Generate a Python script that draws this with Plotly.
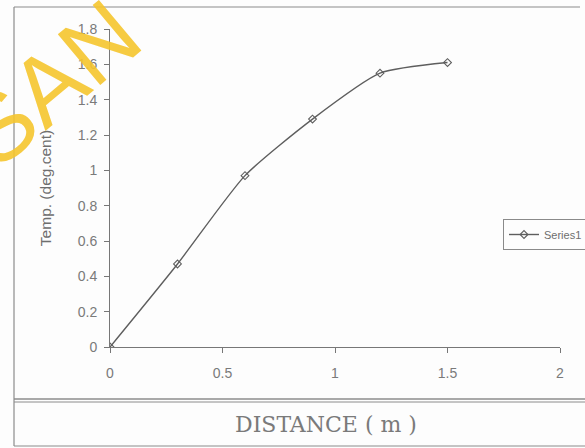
import plotly.graph_objects as go

# Measured temperature rise along the rod
distance_m = [0, 0.3, 0.6, 0.9, 1.2, 1.5]
temp_degc = [0, 0.47, 0.97, 1.29, 1.55, 1.61]
series_name = "Series1"

x_ticks = [0, 0.5, 1, 1.5, 2]
x_tick_text = ["0", "0.5", "1", "1.5", "2"]
y_ticks = [0, 0.2, 0.4, 0.6, 0.8, 1, 1.2, 1.4, 1.6, 1.8]
y_tick_text = ["0", "0.2", "0.4", "0.6", "0.8", "1", "1.2", "1.4", "1.6", "1.8"]

W, H = 585, 448
ML, MR, MT, MB = 110, 25, 29, 101
PW, PH = W - ML - MR, H - MT - MB
GREY = "#6e6e6e"
LINE = "#5e5e5e"


def px(x):
    return (x - ML) / PW


def py(y):
    return (H - MB - y) / PH


fig = go.Figure()
fig.add_trace(go.Scatter(
    x=distance_m, y=temp_degc, name=series_name,
    mode="lines+markers",
    line=dict(color=LINE, width=1.4, shape="spline", smoothing=0.6),
    marker=dict(symbol="diamond-open", size=6, color=LINE, line=dict(width=1.1)),
))

fig.update_layout(
    width=W, height=H,
    margin=dict(l=ML, r=MR, t=MT, b=MB, autoexpand=False),
    paper_bgcolor="#fdfdfd", plot_bgcolor="#fdfdfd",
    font=dict(family="Liberation Sans, Arial, sans-serif", color=GREY, size=13),
    showlegend=True,
    legend=dict(
        x=px(503), y=py(219),
        xanchor="left", yanchor="top",
        bordercolor="#8a8a8a", borderwidth=1, bgcolor="#fdfdfd",
        font=dict(size=11, color=GREY),
        itemwidth=30, tracegroupgap=0,
    ),
    xaxis=dict(
        range=[0, 2], tickvals=x_ticks, ticktext=x_tick_text,
        showgrid=False, zeroline=False,
        showline=True, linecolor="#777", linewidth=1,
        ticks="outside", ticklen=5, tickcolor="#777",
        ticklabelstandoff=8,
        tickfont=dict(size=14, color="#7a7a7a"),
    ),
    yaxis=dict(
        range=[0, 1.8], tickvals=y_ticks, ticktext=y_tick_text,
        showgrid=False, zeroline=False,
        showline=True, linecolor="#777", linewidth=1,
        ticks="outside", ticklen=5, tickcolor="#777",
        ticklabelstandoff=4,
        tickfont=dict(size=14, color="#7a7a7a"),
        title=dict(text="Temp. (deg.cent)", font=dict(size=15.5, color=GREY), standoff=22),
    ),
)

# Outer frame and caption box
frame = dict(color="#8c8c8c", width=1.2)
fig.add_shape(type="line", xref="paper", yref="paper",
              x0=px(14), x1=px(580), y0=py(7), y1=py(7), line=frame)
fig.add_shape(type="line", xref="paper", yref="paper",
              x0=px(14), x1=px(14), y0=py(7), y1=py(446), line=frame)
for yy, wd in [(399, 1.6), (402, 1.0)]:
    fig.add_shape(type="line", xref="paper", yref="paper",
                  x0=px(14), x1=px(W), y0=py(yy), y1=py(yy),
                  line=dict(color="#8c8c8c", width=wd))
fig.add_shape(type="line", xref="paper", yref="paper",
              x0=px(14), x1=px(W), y0=py(446), y1=py(446), line=frame)

fig.add_annotation(
    text="DISTANCE ( m )", xref="paper", yref="paper",
    x=px(326), y=py(424),
    showarrow=False, xanchor="center", yanchor="middle",
    font=dict(family="DejaVu Serif, serif", size=22, color="#7a7a7a"),
)

# Diagonal watermark
fig.add_annotation(
    text="SAN", xref="paper", yref="paper",
    x=px(50), y=py(84),
    showarrow=False, textangle=-40, xanchor="center", yanchor="middle",
    font=dict(family="Liberation Sans, Arial, sans-serif", size=96, color="#f6c62e"),
    opacity=0.9,
)

fig.write_html("out.html")
